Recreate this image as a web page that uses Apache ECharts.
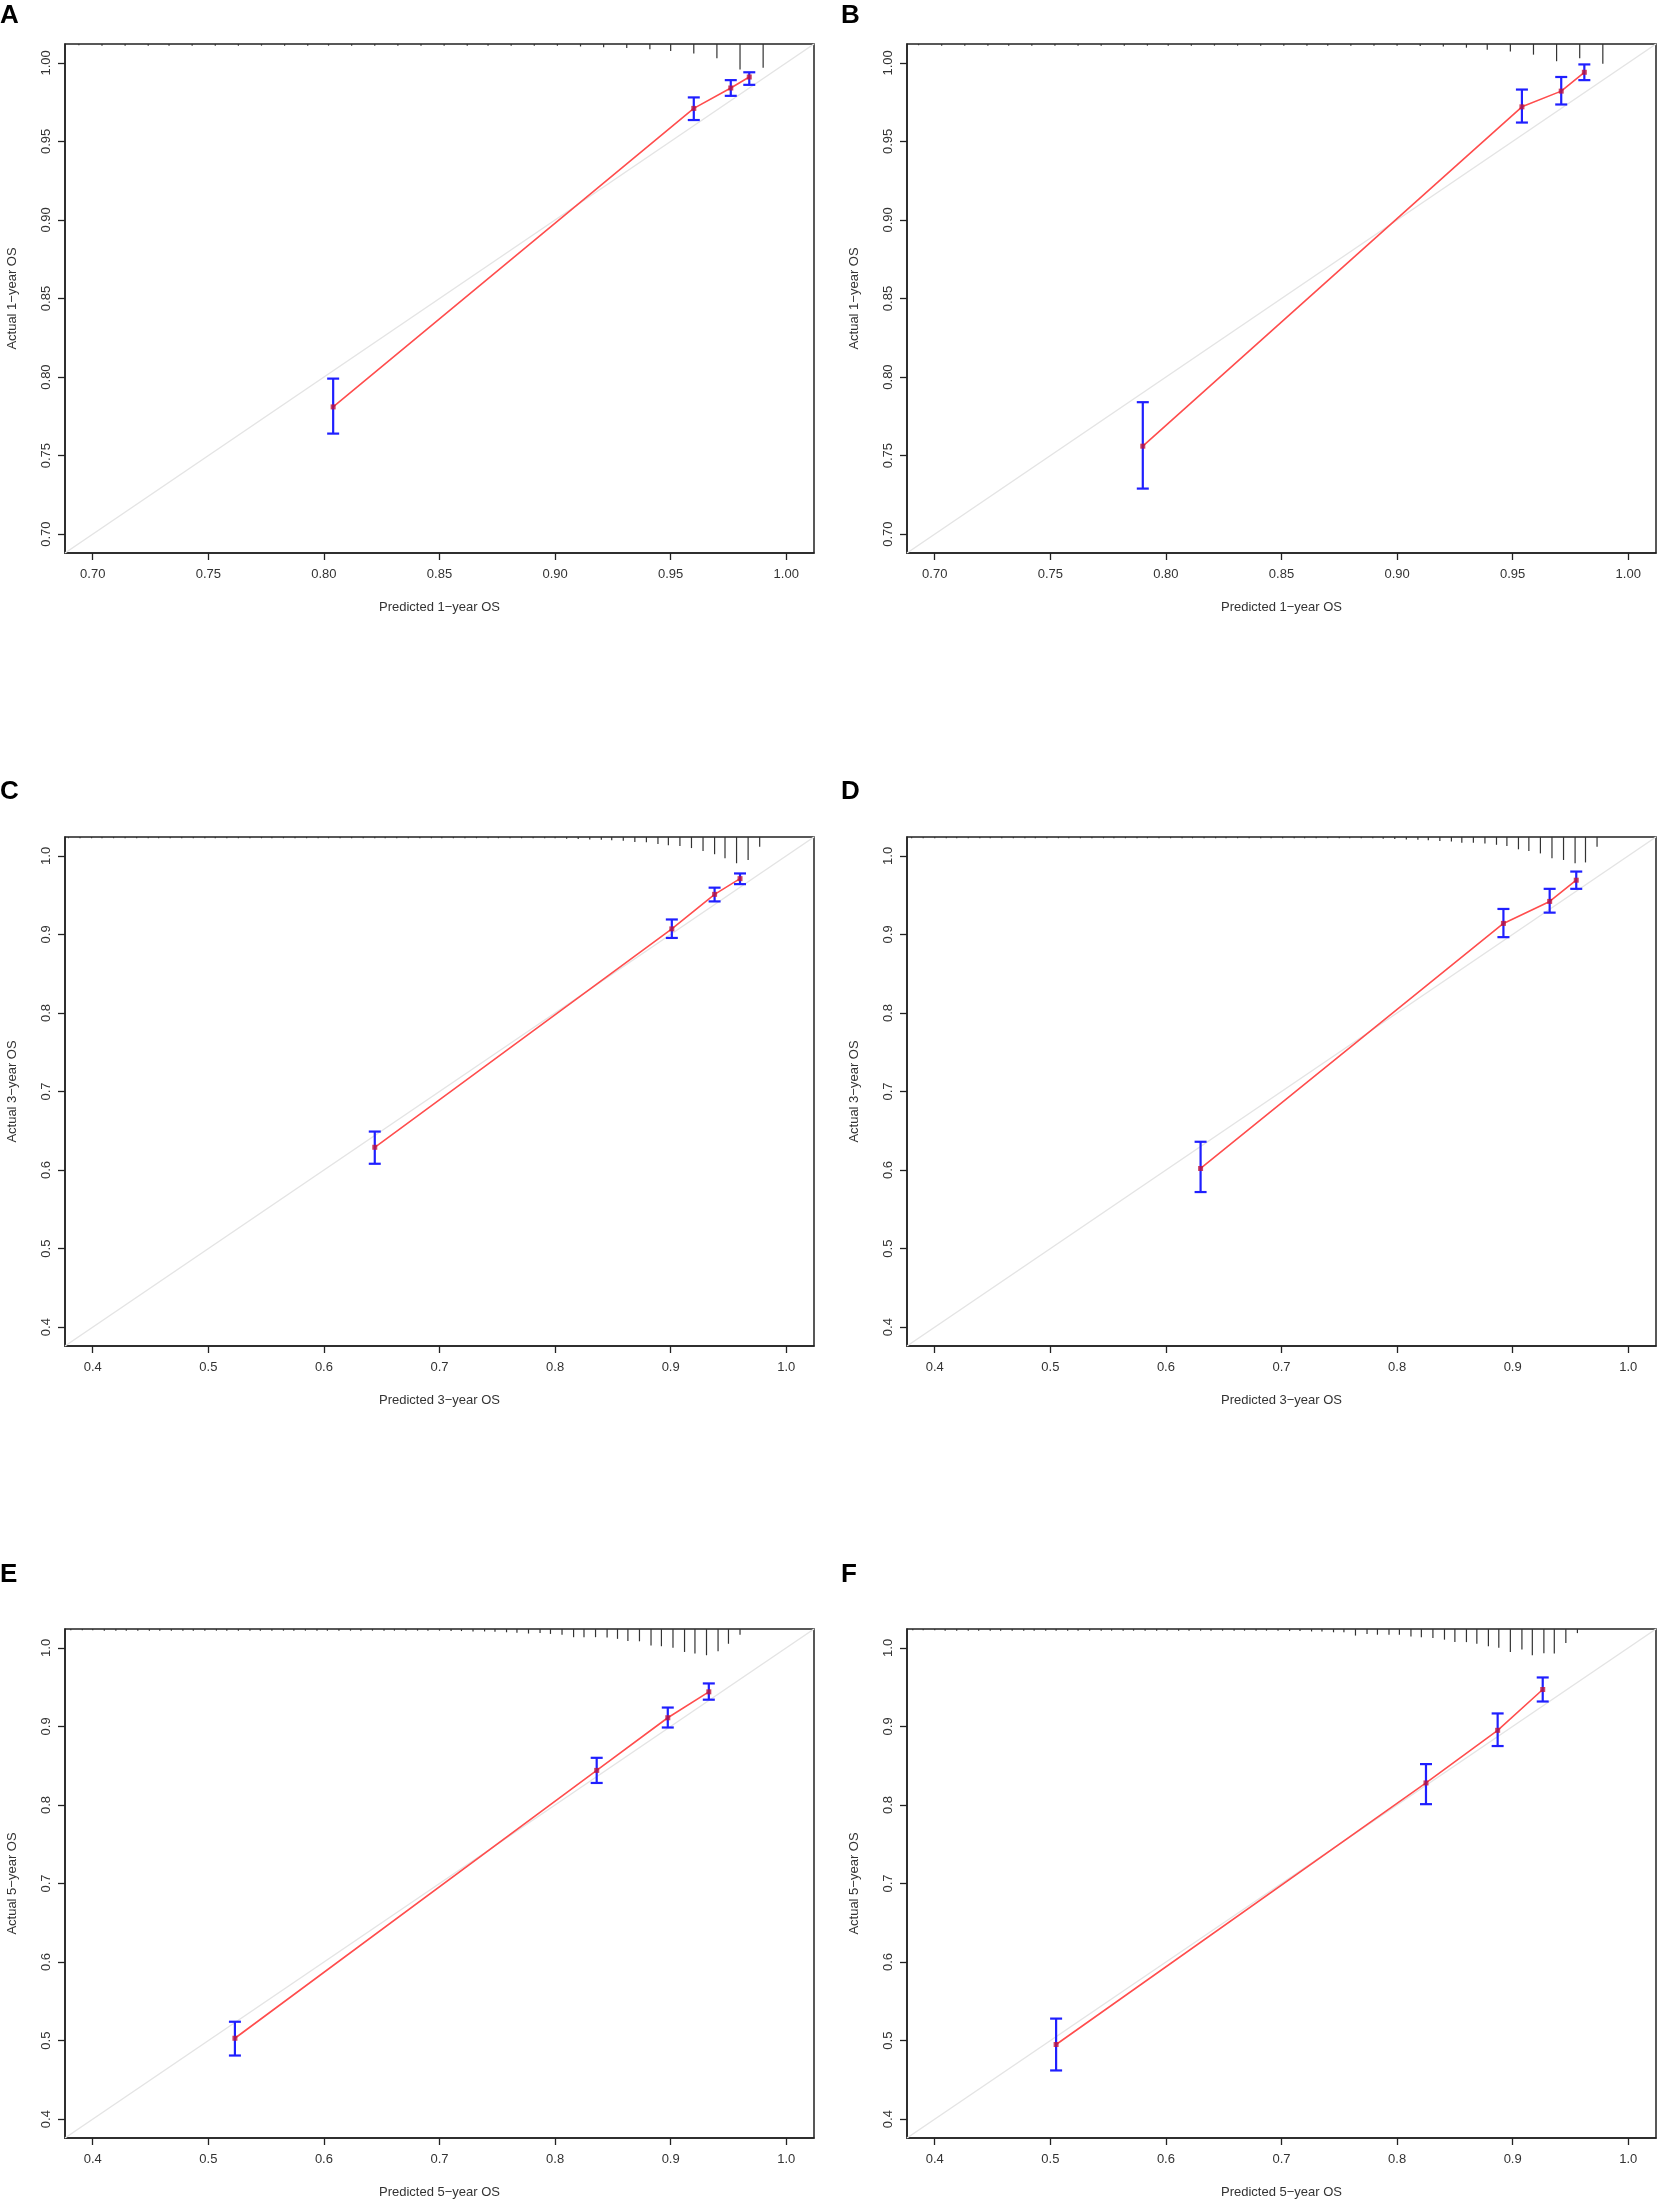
<!DOCTYPE html>
<html>
<head>
<meta charset="utf-8">
<script src="https://cdn.jsdelivr.net/npm/echarts@6/dist/echarts.min.js"></script>
<style>
  html, body { margin: 0; padding: 0; background: #fff; }
  #main { width: 1660px; height: 2207px; }
</style>
</head>
<body>
<div id="main"></div>
<script>
// calibration points: predicted, observed, CI low, CI high
var predA = [0.804, 0.960, 0.976, 0.984];
var obsA  = [0.781, 0.971, 0.984, 0.991];
var loA   = [0.764, 0.9636, 0.979, 0.986];
var hiA   = [0.799, 0.978, 0.989, 0.994];

var predB = [0.790, 0.954, 0.971, 0.981];
var obsB  = [0.756, 0.972, 0.982, 0.994];
var loB   = [0.729, 0.962, 0.9735, 0.989];
var hiB   = [0.784, 0.983, 0.991, 0.999];

var predC = [0.644, 0.901, 0.938, 0.960];
var obsC  = [0.629, 0.907, 0.951, 0.971];
var loC   = [0.608, 0.8955, 0.942, 0.964];
var hiC   = [0.649, 0.919, 0.9595, 0.9776];

var predD = [0.630, 0.892, 0.932, 0.955];
var obsD  = [0.602, 0.914, 0.942, 0.969];
var loD   = [0.572, 0.8965, 0.9277, 0.958];
var hiD   = [0.636, 0.9324, 0.958, 0.980];

var predE = [0.523, 0.836, 0.8975, 0.933];
var obsE  = [0.503, 0.844, 0.911, 0.944];
var loE   = [0.481, 0.828, 0.8986, 0.934];
var hiE   = [0.524, 0.860, 0.924, 0.9547];

var predF = [0.505, 0.825, 0.887, 0.926];
var obsF  = [0.495, 0.828, 0.895, 0.947];
var loF   = [0.462, 0.801, 0.875, 0.9317];
var hiF   = [0.528, 0.852, 0.9165, 0.9623];

// spike histogram of predicted values along the top (bin position, relative count)
var rugAx = [0.694, 0.704, 0.714, 0.724, 0.733, 0.743, 0.753, 0.763, 0.773, 0.783,
             0.793, 0.802, 0.812, 0.822, 0.832, 0.842, 0.852, 0.862, 0.871, 0.881,
             0.891, 0.901, 0.911, 0.921, 0.931, 0.941, 0.950, 0.960, 0.970, 0.980, 0.990];
var rugAh = [3, 4, 4, 4, 4, 4, 4, 4, 4, 4,
             4, 4, 4, 4, 4, 4, 4, 4, 4, 4,
             4, 4, 6, 8, 10, 13, 17, 23, 35, 62, 58];

var rugBx = [0.693, 0.703, 0.713, 0.723, 0.732, 0.742, 0.752, 0.762, 0.772, 0.782,
             0.792, 0.801, 0.811, 0.821, 0.831, 0.841, 0.851, 0.861, 0.870, 0.880,
             0.890, 0.900, 0.910, 0.920, 0.930, 0.939, 0.949, 0.959, 0.969, 0.979, 0.989];
var rugBh = [3, 4, 4, 4, 4, 4, 4, 4, 4, 4,
             4, 4, 4, 4, 4, 4, 4, 4, 4, 4,
             4, 4, 5, 6, 9, 14, 18, 26, 42, 35, 48];

var rugCx = [0.379, 0.389, 0.399, 0.408, 0.418, 0.428, 0.438, 0.448, 0.457, 0.467,
             0.477, 0.487, 0.497, 0.506, 0.516, 0.526, 0.536, 0.546, 0.555, 0.565,
             0.575, 0.585, 0.595, 0.604, 0.614, 0.624, 0.634, 0.644, 0.653, 0.663,
             0.673, 0.683, 0.693, 0.702, 0.712, 0.722, 0.732, 0.742, 0.751, 0.761,
             0.771, 0.781, 0.791, 0.800, 0.810, 0.820, 0.830, 0.840, 0.849, 0.859,
             0.869, 0.879, 0.889, 0.898, 0.908, 0.918, 0.928, 0.938, 0.947, 0.957,
             0.967, 0.977];
var rugCh = [3, 3, 3, 3, 3, 3, 3, 3, 3, 3,
             3, 3, 3, 3, 3, 3, 3, 3, 3, 3,
             3, 3, 3, 3, 3, 3, 3, 3, 3, 3,
             3, 3, 3, 3, 3, 3, 3, 3, 3, 3,
             3, 3, 3, 3, 4, 5, 6, 7, 8, 9,
             12, 13, 17, 20, 22, 27, 34, 42, 52, 64,
             56, 24];

var rugDx = [0.380, 0.390, 0.400, 0.410, 0.419, 0.429, 0.439, 0.448, 0.458, 0.468,
             0.478, 0.487, 0.497, 0.507, 0.516, 0.526, 0.536, 0.546, 0.555, 0.565,
             0.575, 0.584, 0.594, 0.604, 0.614, 0.623, 0.633, 0.643, 0.652, 0.662,
             0.672, 0.682, 0.691, 0.701, 0.711, 0.720, 0.730, 0.740, 0.750, 0.759,
             0.769, 0.779, 0.788, 0.798, 0.808, 0.818, 0.827, 0.837, 0.847, 0.856,
             0.866, 0.876, 0.886, 0.895, 0.905, 0.914, 0.924, 0.934, 0.944, 0.954,
             0.963, 0.973];
var rugDh = [3, 3, 3, 3, 3, 3, 3, 3, 3, 3,
             3, 3, 3, 3, 3, 3, 3, 3, 3, 3,
             3, 3, 3, 3, 3, 3, 3, 3, 3, 3,
             3, 3, 3, 3, 3, 3, 3, 3, 3, 3,
             3, 3, 4, 5, 6, 7, 8, 10, 11, 14,
             14, 16, 19, 22, 30, 34, 40, 52, 56, 64,
             62, 24];

var rugEx = [0.381, 0.391, 0.400, 0.410, 0.420, 0.429, 0.439, 0.449, 0.458, 0.468,
             0.478, 0.487, 0.497, 0.507, 0.516, 0.526, 0.536, 0.545, 0.555, 0.565,
             0.574, 0.584, 0.594, 0.603, 0.613, 0.623, 0.632, 0.642, 0.652, 0.661,
             0.671, 0.681, 0.690, 0.700, 0.710, 0.719, 0.729, 0.739, 0.748, 0.758,
             0.767, 0.777, 0.787, 0.796, 0.806, 0.816, 0.825, 0.835, 0.845, 0.854,
             0.863, 0.873, 0.883, 0.892, 0.902, 0.912, 0.921, 0.931, 0.941, 0.950,
             0.960];
var rugEh = [3, 3, 3, 4, 4, 4, 4, 4, 4, 4,
             4, 4, 4, 4, 4, 4, 4, 4, 4, 4,
             4, 4, 4, 4, 4, 4, 4, 4, 4, 4,
             4, 4, 4, 4, 5, 5, 6, 6, 7, 8,
             9, 11, 10, 12, 14, 20, 20, 20, 21, 24,
             29, 30, 40, 42, 46, 56, 60, 64, 54, 36,
             14];

var rugFx = [0.381, 0.390, 0.400, 0.409, 0.419, 0.429, 0.438, 0.448, 0.457, 0.467,
             0.477, 0.486, 0.496, 0.505, 0.515, 0.524, 0.534, 0.544, 0.553, 0.563,
             0.572, 0.582, 0.592, 0.601, 0.611, 0.620, 0.630, 0.639, 0.649, 0.659,
             0.668, 0.678, 0.687, 0.697, 0.707, 0.716, 0.726, 0.735, 0.745, 0.754,
             0.764, 0.774, 0.783, 0.793, 0.802, 0.812, 0.821, 0.831, 0.841, 0.850,
             0.860, 0.869, 0.879, 0.888, 0.898, 0.908, 0.917, 0.927, 0.936, 0.946,
             0.956];
var rugFh = [3, 3, 3, 4, 4, 4, 4, 4, 4, 4,
             4, 4, 4, 4, 4, 4, 4, 4, 4, 4,
             4, 4, 4, 4, 4, 4, 4, 4, 4, 4,
             4, 4, 4, 4, 5, 5, 6, 6, 8, 8,
             16, 12, 14, 14, 14, 18, 20, 22, 26, 32,
             32, 36, 42, 46, 56, 50, 64, 59, 60, 34,
             10];

var ticks1 = [0.70, 0.75, 0.80, 0.85, 0.90, 0.95, 1.00];
var ticks35 = [0.4, 0.5, 0.6, 0.7, 0.8, 0.9, 1.0];

var panels = [
  { tag: 'A', yr: 1, pred: predA, obs: obsA, lo: loA, hi: hiA, rx: rugAx, rh: rugAh },
  { tag: 'B', yr: 1, pred: predB, obs: obsB, lo: loB, hi: hiB, rx: rugBx, rh: rugBh },
  { tag: 'C', yr: 3, pred: predC, obs: obsC, lo: loC, hi: hiC, rx: rugCx, rh: rugCh },
  { tag: 'D', yr: 3, pred: predD, obs: obsD, lo: loD, hi: hiD, rx: rugDx, rh: rugDh },
  { tag: 'E', yr: 5, pred: predE, obs: obsE, lo: loE, hi: hiE, rx: rugEx, rh: rugEh },
  { tag: 'F', yr: 5, pred: predF, obs: obsF, lo: loF, hi: hiF, rx: rugFx, rh: rugFh }
];

var FONT = '"Liberation Sans", Arial, Helvetica, sans-serif';
var SPIKE_PX = 0.41;   // pixels per unit of relative count
var rowTop = [44, 837, 1629];
var colLeft = [65, 907];
var letterTop = [3, 779, 1562];
var letterLeft = [0, 841];

var myChart = echarts.init(document.getElementById('main'), null, { renderer: 'canvas' });

var grids = [], xAxes = [], yAxes = [], series = [], graphics = [];

panels.forEach(function (p, i) {
  var row = Math.floor(i / 2), col = i % 2;
  var oneYear = p.yr === 1;
  var lim = oneYear ? [0.688, 1.012] : [0.376, 1.024];
  var ticks = oneYear ? ticks1 : ticks35;
  var digits = oneYear ? 2 : 1;

  grids.push({
    left: colLeft[col], top: rowTop[row], width: 749, height: 509,
    show: true, borderColor: '#222', borderWidth: 1.5, backgroundColor: 'transparent'
  });

  var axisCommon = {
    gridIndex: i, type: 'value', min: lim[0], max: lim[1],
    splitLine: { show: false },
    axisLine: { show: true, lineStyle: { color: '#222', width: 1.5 } },
    axisTick: { show: true, length: 7, customValues: ticks, lineStyle: { color: '#222', width: 1.3 } },
    nameLocation: 'middle',
    nameTextStyle: { fontFamily: FONT, fontSize: 13, color: '#333' }
  };

  xAxes.push(Object.assign({}, axisCommon, {
    name: 'Predicted ' + p.yr + '\u2212year OS',
    nameGap: 48,
    axisLabel: {
      customValues: ticks, margin: 15, fontFamily: FONT, fontSize: 13, color: '#333',
      formatter: function (v) { return v.toFixed(digits); }
    }
  }));

  yAxes.push(Object.assign({}, axisCommon, {
    name: 'Actual ' + p.yr + '\u2212year OS',
    nameGap: 46,
    axisLabel: {
      customValues: ticks, margin: 12, rotate: 90, fontFamily: FONT, fontSize: 13, color: '#333',
      formatter: function (v) { return v.toFixed(digits); }
    }
  }));

  // ideal line
  series.push({
    type: 'line', xAxisIndex: i, yAxisIndex: i, silent: true, symbol: 'none',
    data: [[lim[0], lim[0]], [lim[1], lim[1]]],
    lineStyle: { color: '#e4e4e4', width: 1.5 }, z: 1
  });

  // observed calibration curve
  series.push({
    type: 'line', xAxisIndex: i, yAxisIndex: i, silent: true, symbol: 'none',
    data: p.pred.map(function (x, k) { return [x, p.obs[k]]; }),
    lineStyle: { color: '#ff4d4d', width: 1.6 }, z: 2
  });

  // error bars
  series.push({
    type: 'custom', xAxisIndex: i, yAxisIndex: i, silent: true, z: 3,
    data: p.pred.map(function (x, k) { return [x, p.lo[k], p.hi[k]]; }),
    encode: { x: 0, y: [1, 2] },
    renderItem: function (params, api) {
      var a = api.coord([api.value(0), api.value(1)]);
      var b = api.coord([api.value(0), api.value(2)]);
      var w = 6;
      var st = { stroke: '#1f1fff', lineWidth: 2.2 };
      return {
        type: 'group',
        children: [
          { type: 'line', shape: { x1: a[0], y1: a[1], x2: b[0], y2: b[1] }, style: st },
          { type: 'line', shape: { x1: a[0] - w, y1: a[1], x2: a[0] + w, y2: a[1] }, style: st },
          { type: 'line', shape: { x1: b[0] - w, y1: b[1], x2: b[0] + w, y2: b[1] }, style: st }
        ]
      };
    }
  });

  // points
  series.push({
    type: 'scatter', xAxisIndex: i, yAxisIndex: i, silent: true, z: 4,
    symbol: 'rect', symbolSize: 5,
    data: p.pred.map(function (x, k) { return [x, p.obs[k]]; }),
    itemStyle: { color: '#c0143c' }
  });

  // spikes along the top
  series.push({
    type: 'custom', xAxisIndex: i, yAxisIndex: i, silent: true, z: 5,
    data: p.rx.map(function (x, k) { return [x, lim[1], p.rh[k]]; }),
    encode: { x: 0, y: 1 },
    renderItem: function (params, api) {
      var t = api.coord([api.value(0), api.value(1)]);
      return {
        type: 'line',
        shape: { x1: t[0], y1: t[1], x2: t[0], y2: t[1] + api.value(2) * SPIKE_PX },
        style: { stroke: '#333', lineWidth: 1.2 }
      };
    }
  });

  graphics.push({
    type: 'text', left: letterLeft[col], top: letterTop[row],
    style: { text: p.tag, font: 'bold 26px ' + FONT, fill: '#000' }
  });
});

var option = {
  backgroundColor: '#fff',
  animation: false,
  grid: grids,
  xAxis: xAxes,
  yAxis: yAxes,
  series: series,
  graphic: graphics
};

myChart.setOption(option);
</script>
</body>
</html>
